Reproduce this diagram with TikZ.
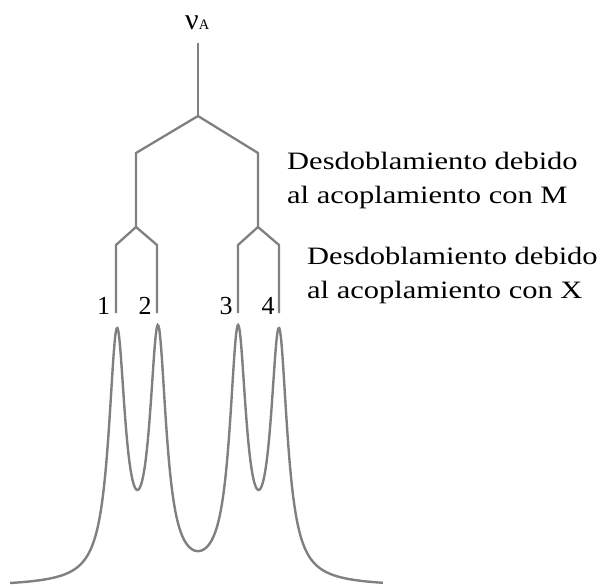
\documentclass[tikz,border=0pt]{standalone}
\usepackage{fontspec}
\setmainfont{Liberation Serif}[FakeStretch=1.22]
\newfontfamily\plainserif{Liberation Serif}
\begin{document}
\begin{tikzpicture}[x=1pt,y=-1pt,
  tree/.style={draw=black!50,line width=2.3pt,line join=miter},
  spec/.style={draw=black!50,line width=2.4pt},
  lbl/.style={anchor=base west,inner sep=0pt,font=\fontsize{25}{25}\selectfont},
  num/.style={anchor=base,inner sep=0pt,font=\plainserif\fontsize{26}{26}\selectfont}]
\useasboundingbox[fill=white] (0,0) rectangle (603,586);
% label
\node[anchor=base west,inner sep=0pt] (nuA) at (185,30)
  {\plainserif\fontsize{30}{30}\selectfont ν\fontsize{14.5}{14.5}\selectfont A};
% tree coordinates
\coordinate (top) at (198,43);
\coordinate (root) at (198,116);
\coordinate (mL) at (136,153);
\coordinate (mR) at (258,153);
\coordinate (bL) at (136,227);
\coordinate (bR) at (258,227);
\coordinate (l1) at (116,245);
\coordinate (l2) at (157,245);
\coordinate (l3) at (238,245);
\coordinate (l4) at (279,245);
\coordinate (e1) at (116,313);
\coordinate (e2) at (157,313);
\coordinate (e3) at (238,313);
\coordinate (e4) at (279,313);
\draw[tree] (top) -- (root);
\draw[tree] (e1) -- (l1) -- (bL) -- (mL) -- (root) -- (mR) -- (bR) -- (l4) -- (e4);
\draw[tree] (bL) -- (l2) -- (e2);
\draw[tree] (bR) -- (l3) -- (e3);
% texts
\node[lbl] (t1) at (287,169) {Desdoblamiento debido};
\node[lbl] (t2) at (287,203) {al acoplamiento con M};
\node[lbl] (t3) at (307,264) {Desdoblamiento debido};
\node[lbl] (t4) at (307,298) {al acoplamiento con X};
\node[num] (n1) at (103.5,314) {1};
\node[num] (n2) at (145,314) {2};
\node[num] (n3) at (226,314) {3};
\node[num] (n4) at (268,314) {4};
% spectrum
\draw[spec] plot[domain=10:383,samples=400,smooth]
  (\x,{587-243*(1/(1+((\x-117)/10)^2)+1/(1+((\x-158)/10)^2)+1/(1+((\x-238)/10)^2)+1/(1+((\x-279)/10)^2))});
\end{tikzpicture}
\end{document}
